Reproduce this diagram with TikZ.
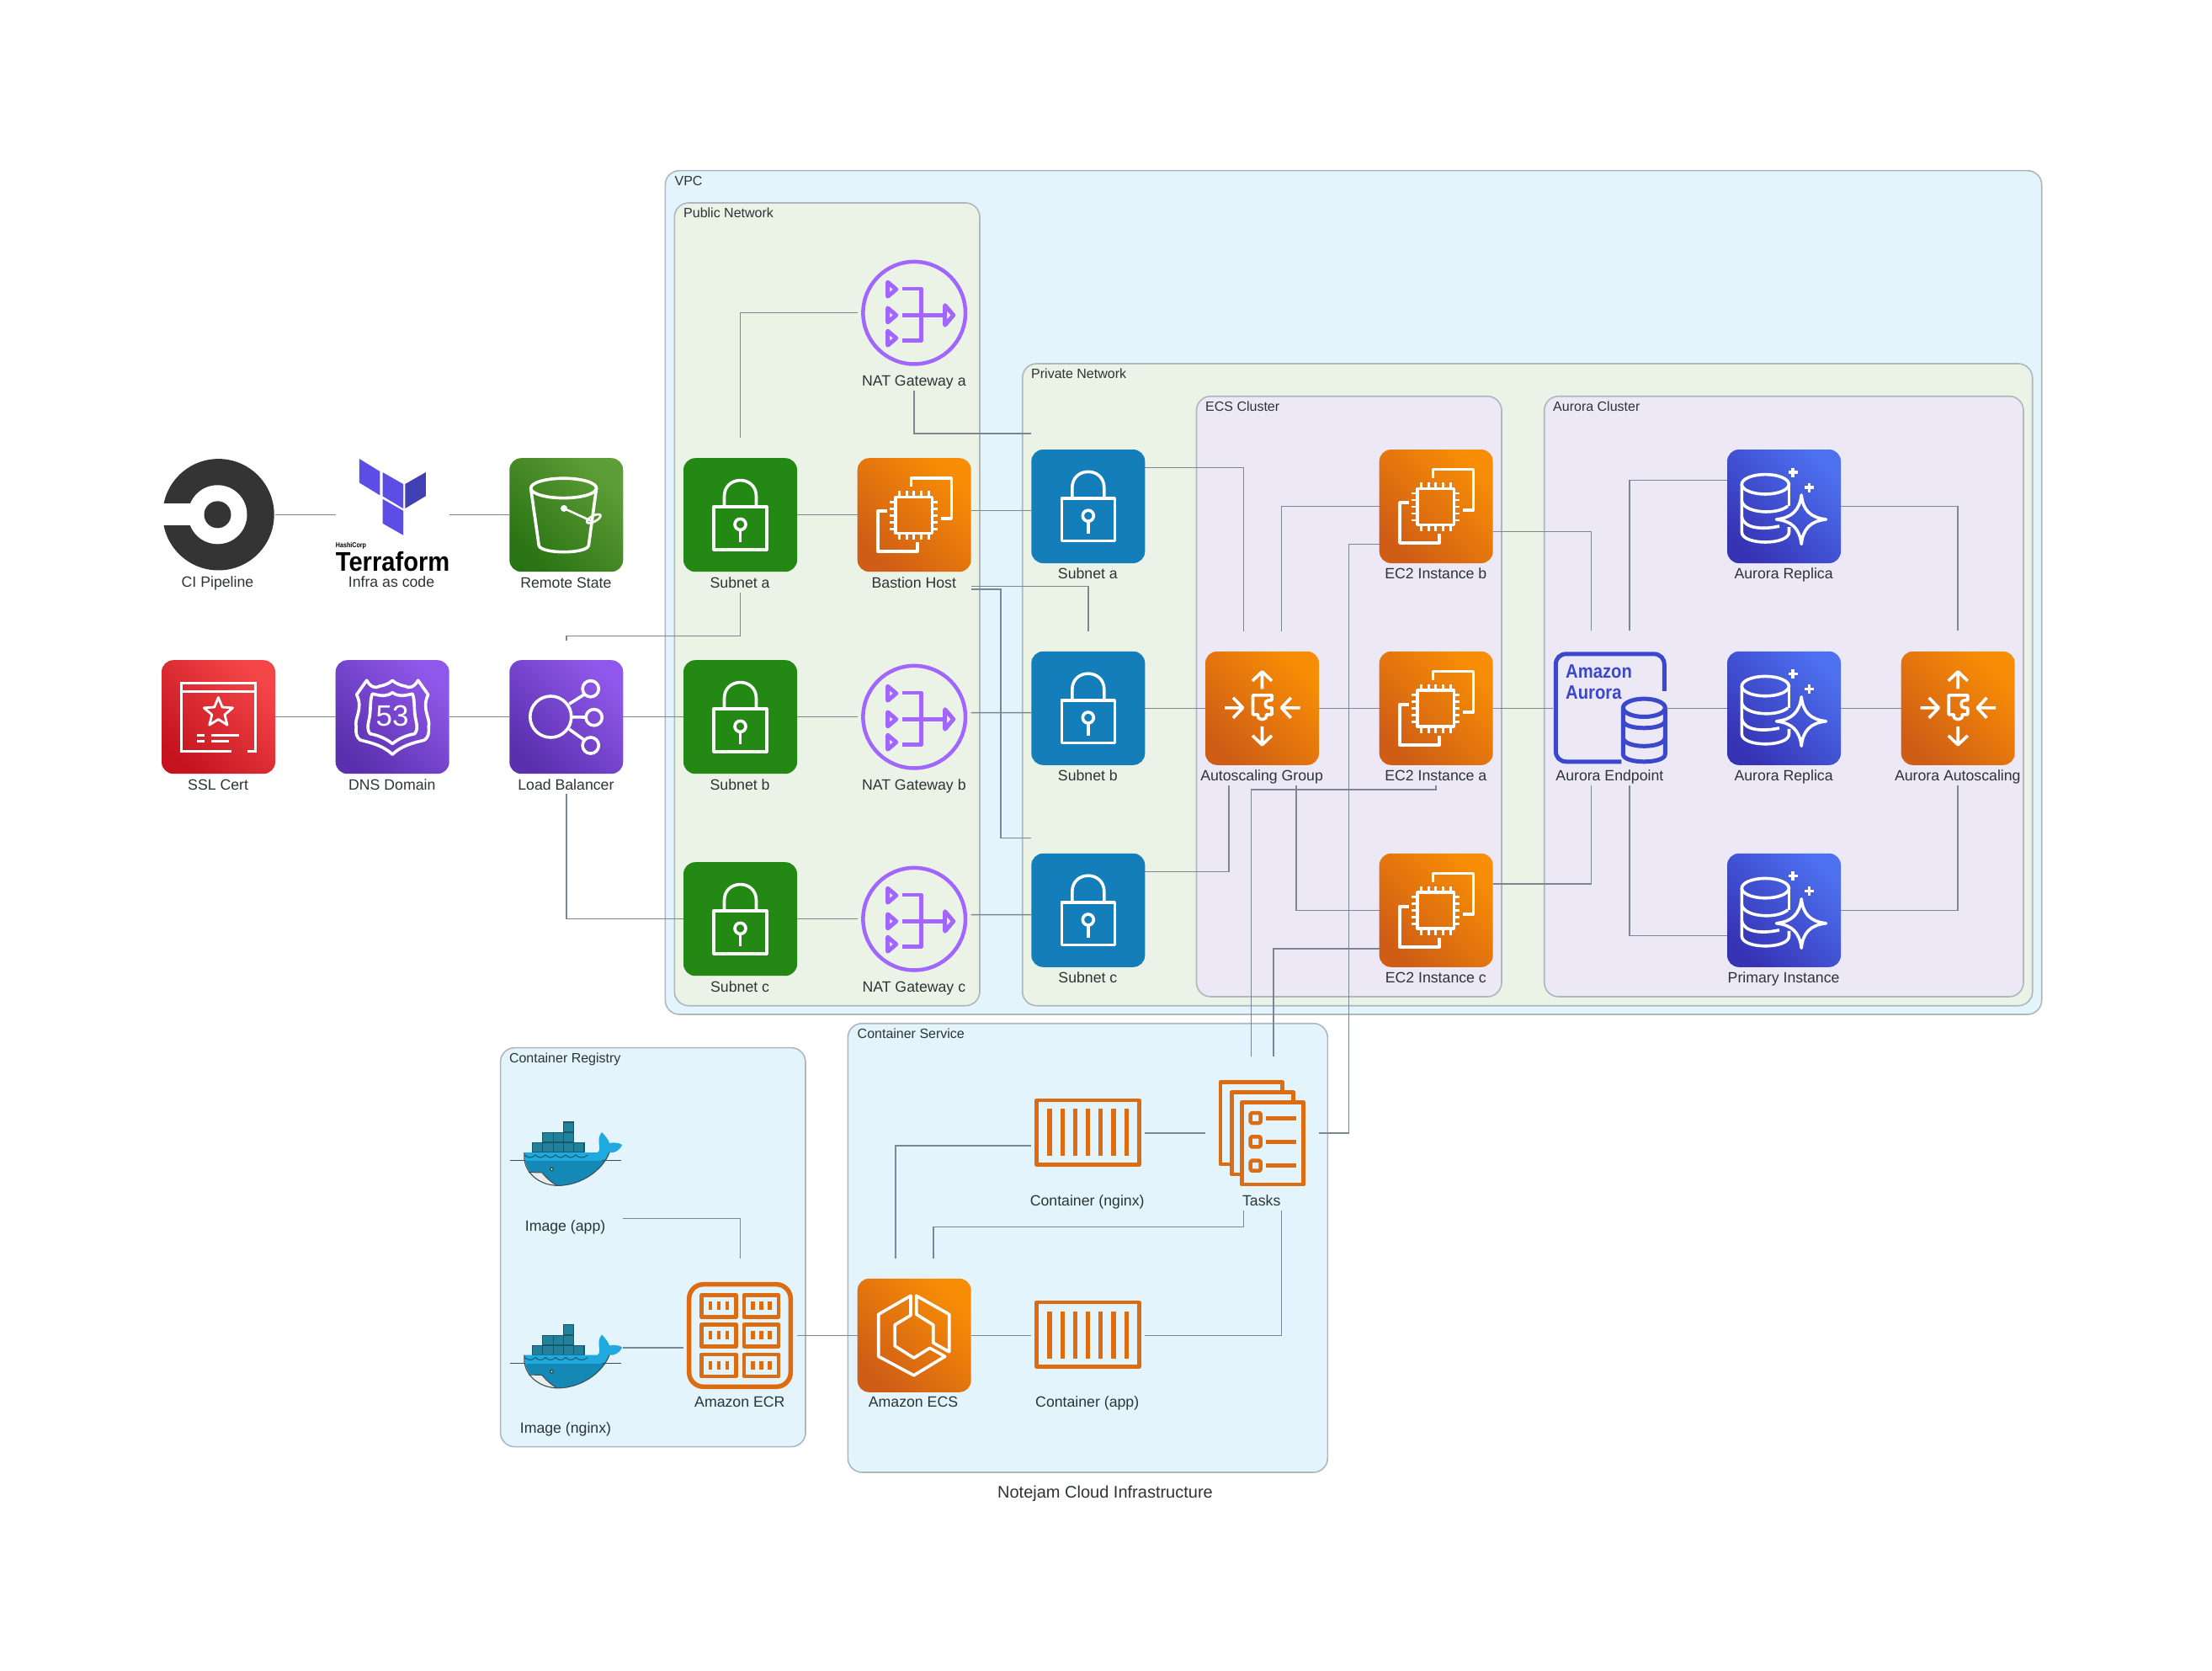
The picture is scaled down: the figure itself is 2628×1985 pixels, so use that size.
\documentclass[tikz,border=0pt]{standalone}
\usepackage{fontspec}
\usepackage{graphicx}
\setmainfont{Liberation Sans}
\usetikzlibrary{calc}
\definecolor{vpcblue}{HTML}{E3F4FC}
\definecolor{netgreen}{HTML}{EBF3E7}
\definecolor{clulilac}{HTML}{ECE8F6}
\definecolor{cluline}{HTML}{AEB6BE}
\definecolor{connc}{HTML}{7B8894}
\definecolor{textc}{HTML}{2D3436}
\definecolor{ordark}{HTML}{D05D16}
\definecolor{orlight}{HTML}{F78E05}
\definecolor{orflat}{HTML}{DD6B10}
\definecolor{reddark}{HTML}{C5141F}
\definecolor{redlight}{HTML}{F44648}
\definecolor{purdark}{HTML}{5A30AE}
\definecolor{purlight}{HTML}{9058EA}
\definecolor{natpur}{HTML}{A166FF}
\definecolor{s3dark}{HTML}{2A7314}
\definecolor{s3light}{HTML}{5E9E36}
\definecolor{audark}{HTML}{3634B5}
\definecolor{aulight}{HTML}{4C70F0}
\definecolor{aublue}{HTML}{3B48CC}
\definecolor{subgreen}{HTML}{248814}
\definecolor{subblue}{HTML}{147EBA}
\definecolor{tfmain}{HTML}{5C4EE5}
\definecolor{tfdark}{HTML}{4040B2}
\definecolor{cidark}{HTML}{343434}
\definecolor{wtop}{HTML}{1FA9DE}
\definecolor{wlow}{HTML}{1489B6}
\definecolor{wline}{HTML}{394D54}
\definecolor{boxa}{HTML}{23809A}
\definecolor{boxb}{HTML}{14586B}
\tikzset{
  x=1pt,y=-1pt,
  cluster/.style={draw=cluline,line width=1.6pt,rounded corners=17pt},
  clulab/.style={anchor=base west,inner sep=0pt,text=textc,font=\fontsize{16}{18}\selectfont},
  lbl/.style={anchor=base,inner sep=0pt,text=textc,font=\fontsize{17.7}{20}\selectfont},
  conn/.style={draw=connc,line width=1.5pt},
  iconnode/.style={minimum size=135pt,inner sep=0pt,outer sep=0pt,rounded corners=14pt},
  blank/.style={iconnode},
  orbox/.style={iconnode,bottom color=ordark,top color=orlight,shading angle=-45},
  redbox/.style={iconnode,bottom color=reddark,top color=redlight,shading angle=-45},
  purbox/.style={iconnode,bottom color=purdark,top color=purlight,shading angle=-45},
  sgbox/.style={iconnode,bottom color=s3dark,top color=s3light,shading angle=-45},
  aubox/.style={iconnode,bottom color=audark,top color=aulight,shading angle=-45},
  greenbox/.style={iconnode,fill=subgreen},
  bluebox/.style={iconnode,fill=subblue},
  wht/.style={draw=white,line width=3.6pt,line join=round},
  aetxt/.style={anchor=base west,inner sep=0pt,text=aublue},
  pics/lockg/.style={code={
    \draw[wht] (36,58) rectangle (99,108.5);
    \draw[wht] (48.5,56) -- (48.5,45.5) .. controls (48.5,20) and (86.5,20) .. (86.5,45.5) -- (86.5,56);
    \draw[wht] (67.5,78.7) circle[radius=6.5];
    \draw[wht] (67.5,85) -- (67.5,100);
  }},
  pics/natg/.style={code={
    \begin{scope}[shift={(67.5,67.5)},line join=round]
    \draw[draw=natpur,line width=4.5pt] (0,0) circle[radius=60.8];
    \foreach \yy in {-28,2.7,30}{
      \draw[draw=natpur,line width=5pt] (-31.5,\yy-8.5) -- (-21.5,\yy) -- (-31.5,\yy+8.5) -- cycle;}
    \draw[draw=natpur,line width=4.5pt] (-14.3,-28.7) -- (8.3,-28.7) -- (8.3,33) -- (-14.3,33);
    \draw[draw=natpur,line width=4.5pt] (-14.3,2.7) -- (36,2.7);
    \draw[draw=natpur,line width=5pt] (36.5,-9) -- (46.5,2.7) -- (36.5,14.5) -- cycle;
    \end{scope}
  }},
  pics/ecg/.style={code={
    \draw[wht] (63.8,34) -- (63.8,23.6) -- (111.6,23.6) -- (111.6,72) -- (99.6,72);
    \draw[wht] (35.4,63) -- (24.3,63) -- (24.3,111) -- (71,111) -- (71,100);
    \draw[wht] (45.5,46.4) rectangle (88.6,89.3);
    \foreach \aa in {50,58.5,67,76,85}{
      \draw[white,line width=2.8pt] (\aa,39) -- (\aa,46);
      \draw[white,line width=2.8pt] (\aa,90) -- (\aa,97);}
    \foreach \aa in {52,60,68,76,84}{
      \draw[white,line width=2.8pt] (38.5,\aa) -- (45.5,\aa);
      \draw[white,line width=2.8pt] (88.6,\aa) -- (95.5,\aa);}
  }},
  pics/asgg/.style={code={
    \draw[wht] (67.5,44.6) -- (67.5,24.5) (56,35) -- (67.5,24) -- (79,35);
    \draw[wht] (67.5,89) -- (67.5,110.5) (56,100) -- (67.5,111) -- (79,100);
    \draw[wht] (23,67) -- (44,67) (33,55) -- (44.6,67) -- (33,79);
    \draw[wht] (112.5,67) -- (91,67) (101.7,55) -- (90.5,67) -- (101.7,79);
    \draw[wht] (56.5,52) -- (79,52) -- (79,58) -- (75,58) .. controls (70,58) and (70,67) .. (75,67) -- (79,67) -- (79,75) -- (72.5,75) .. controls (74,83) and (61,83) .. (62.5,75) -- (56.5,75) -- cycle;
  }},
  pics/bucketg/.style={code={
    \draw[wht] (64.3,35.7) ellipse[x radius=39,y radius=11.7];
    \draw[wht] (25.3,35.7) -- (35,104) .. controls (38,114) and (91,114) .. (94,104) -- (103.3,35.7);
    \fill[white] (64.7,59.7) circle[radius=4];
    \draw[white,line width=2.6pt] (64.7,59.7) -- (98,75);
    \draw[white,line width=2.6pt,rotate around={28:(100,72)}] (100,72) ellipse[x radius=9,y radius=3.5];
  }},
  pics/certg/.style={code={
    \draw[white,line width=3pt,line join=miter] (83,108) -- (23.7,108) -- (23.7,27) -- (111,27) -- (111,108) -- (102,108);
    \draw[white,line width=3pt] (23.7,37.3) -- (111,37.3);
    \begin{scope}[shift={(67.4,62.3)}]
    \draw[white,line width=2.8pt,line join=round] (0,-18) -- (4.7,-6.5) -- (17.1,-5.6) -- (7.6,2.5) -- (10.6,14.6) -- (0,8) -- (-10.6,14.6) -- (-7.6,2.5) -- (-17.1,-5.6) -- (-4.7,-6.5) -- cycle;
    \end{scope}
    \draw[white,line width=3pt] (42,89) -- (51,89) (58.5,89) -- (92,89) (42,96.3) -- (51,96.3) (58.5,96.3) -- (79.5,96.3);
  }},
  pics/shieldg/.style={code={
    \begin{scope}[shift={(67.5,68)}]
    \draw[wht] (-30.5,-44) .. controls (-26,-36) and (-20,-34) .. (-15.5,-37) .. controls (-10,-38) and (-4,-40) .. (0,-44) .. controls (4,-40) and (10,-38) .. (15.5,-37) .. controls (20,-34) and (26,-36) .. (30.5,-44) -- (42.5,-27) .. controls (34,-10) and (46,2) .. (43,11) .. controls (44,20) and (42,24) .. (38,27) .. controls (25,30) and (10,34) .. (0,44) .. controls (-10,34) and (-25,30) .. (-38,27) .. controls (-42,24) and (-44,20) .. (-43,11) .. controls (-46,2) and (-34,-10) .. (-42.5,-27) -- cycle;
    \begin{scope}[scale=.78]
    \draw[wht] (-30.5,-36) .. controls (-15,-32) and (-8,-32) .. (0,-38) .. controls (8,-32) and (15,-32) .. (30.5,-36) .. controls (35,-25) and (32,-10) .. (36,5) .. controls (38,14) and (38,20) .. (34,25) .. controls (22,27) and (10,32) .. (0,40) .. controls (-10,32) and (-22,27) .. (-34,25) .. controls (-38,20) and (-38,14) .. (-36,5) .. controls (-32,-10) and (-35,-25) .. (-30.5,-36) -- cycle;
    \end{scope}
    \end{scope}
  }},
  pics/elbg/.style={code={
    \draw[wht] (49,67.3) circle[radius=24.5];
    \foreach \yy/\xx in {34/96.4,68/100.4,101.3/96.4}{
      \draw[wht] (\xx,\yy) circle[radius=9.6];}
    \draw[wht] (71,52) -- (89,40.7) (74,67.6) -- (91,67.8) (71,82) -- (89,95);
  }},
  pics/aurdbg/.style={code={
    \draw[wht] (45.3,41.3) ellipse[x radius=28,y radius=11.7];
    \draw[wht] (17.3,41.3) -- (17.3,98) .. controls (17.3,114) and (73.5,114) .. (73.5,98) -- (73.5,92);
    \draw[wht] (73.5,41.3) -- (73.5,67);
    \draw[wht] (17.3,61) .. controls (20,76) and (60,78) .. (72,67);
    \draw[wht] (17.3,80) .. controls (20,95) and (45,95) .. (62,91);
    \draw[wht] (88.2,54) .. controls (90,72) and (99,81) .. (117.5,83) .. controls (99,85) and (90,94) .. (88.2,112.4) .. controls (86,94) and (77,85) .. (58.4,83) .. controls (77,81) and (86,72) .. (88.2,54) -- cycle;
    \draw[white,line width=3.2pt] (72.5,27) -- (83.5,27) (78,21.5) -- (78,32.5);
    \draw[white,line width=3.2pt] (92,45) -- (103,45) (97.5,39.5) -- (97.5,50.5);
  }},
  aub/.style={draw=aublue,line width=5pt,line join=round},
  pics/aendg/.style={code={
    \draw[aub] (132,47) -- (132,16) .. controls (132,8) and (127,3) .. (119,3) -- (16,3) .. controls (8,3) and (3,8) .. (3,16) -- (3,118) .. controls (3,126) and (8,131) .. (16,131) -- (81,131);
    \draw[aub] (108,67) ellipse[x radius=25,y radius=10.7];
    \draw[aub] (83,67) -- (83,122) .. controls (83,134) and (133,134) .. (133,122) -- (133,67);
    \draw[aub] (83,82) .. controls (83,94) and (133,94) .. (133,82);
    \draw[aub] (83,102) .. controls (83,116) and (133,116) .. (133,102);
  }},
  pics/ecsg/.style={code={
    \draw[wht] (63.3,20.4) -- (25,42.5) -- (25,92.5) -- (67,115) -- (104,92.5) -- (86,82.5) -- (67,94.3) -- (44.4,80) -- (44.4,55) -- (63.3,43.6) -- cycle;
    \draw[wht] (70,20.4) -- (109,42.5) -- (109,87) -- (90,76.4) -- (90,55) -- (70,42.5) -- cycle;
  }},
  orl/.style={draw=orflat,line join=round},
  pics/ecrg/.style={code={
    \begin{scope}[shift={(4,4.2)}]
    \draw[orl,line width=5.5pt,rounded corners=17pt] (2.7,2.7) rectangle (123.3,124.3);
    \foreach \xa in {17.5,68}{
      \foreach \ya in {15.4,50.4,85.8}{
        \draw[orl,line width=4.6pt] (\xa,\ya) rectangle (\xa+41,\ya+26);
        \foreach \d in {-10,0,10}{
          \draw[orl,line width=4.6pt] (\xa+20.5+\d,\ya+8) -- (\xa+20.5+\d,\ya+18);}
      }}
    \end{scope}
  }},
  pics/ctng/.style={code={
    \begin{scope}[shift={(4,26)}]
    \draw[orl,line width=4.7pt] (2.3,2.3) rectangle (124,78.7);
    \foreach \xa in {17.7,33,48,63.3,78.3,93.7,109}{
      \draw[orl,line width=5.5pt] (\xa,12.7) -- (\xa,68.7);}
    \end{scope}
  }},
  pics/tasksg/.style={code={
    \begin{scope}[shift={(15.7,4.3)}]
    \draw[orl,line width=4.5pt] (13,100) -- (2.3,100) -- (2.3,2.3) -- (76,2.3) -- (76,13);
    \draw[orl,line width=4.5pt] (25,112) -- (15.6,112) -- (15.6,14.6) -- (89,14.6) -- (89,25);
    \draw[orl,line width=4.5pt] (27.6,26.3) rectangle (101,124);
    \foreach \yy in {45,73.3,101.7}{
      \draw[orl,line width=4.5pt,rounded corners=1.5pt] (38,\yy-6) rectangle (50,\yy+6);
      \draw[orl,line width=5pt] (56.3,\yy) -- (92.7,\yy);}
    \end{scope}
  }},
  pics/whaleg/.style={code={
    \foreach \xa in {26.5,38.8,51.1,63.4,75.7}{
      \draw[fill=boxa,draw=boxb,line width=1.2pt] (\xa,25.7) rectangle (\xa+12.3,37);}
    \foreach \xa in {38.8,51.1,63.4}{
      \draw[fill=boxa,draw=boxb,line width=1.2pt] (\xa,13.6) rectangle (\xa+12.3,24.9);}
    \draw[fill=boxa,draw=boxb,line width=1.2pt] (63.4,1) rectangle (75.7,12.6);
    \begin{scope}
    \clip (16.8,37) -- (104,37) .. controls (110,33) and (101,22) .. (109,13) .. controls (113,17) and (117,22) .. (118,26) .. controls (123,25) and (129,25) .. (133,28) .. controls (130,35) and (124,38) .. (118,37) .. controls (110,58) and (85,76) .. (57,76.4) .. controls (33,76) and (17,60) .. (16.8,37) -- cycle;
    \fill[wtop] (0,0) rectangle (140,47);
    \fill[wlow] (0,47) rectangle (140,80);
    \fill[gray!15] (20,60) -- (38,61) .. controls (42,66) and (48,72) .. (56,77) -- (30,78) -- cycle;
    \end{scope}
    \draw[wline,line width=1pt] (22,60.5) -- (38,61) .. controls (42,66) and (48,72) .. (56,76.4);
    \draw[wline,line width=1.1pt] (16.8,37) -- (16.8,42) .. controls (17,60) and (33,76) .. (57,76.4) .. controls (85,76) and (110,58) .. (118,37);
    \draw[wline,line width=1pt] (0,46.5) -- (17,46.5) (109,46.5) -- (132,46.5);
    \draw[boxb,line width=1pt] (17,40) .. controls (22,44) and (26,44) .. (30,40) .. controls (34,44) and (38,44) .. (42,40) .. controls (46,44) and (50,44) .. (54,40) .. controls (58,44) and (62,44) .. (66,40) .. controls (70,44) and (74,44) .. (78,40) .. controls (82,44) and (88,44) .. (92,40);
    \fill[wline] (49.5,56.8) circle[radius=2.6];
    \fill[white] (49.5,56.8) circle[radius=1];
  }},
  pics/tfg/.style={code={
    \fill[tfmain] (426.8,545) -- (451.3,560) -- (451.3,588.3) -- (426.8,573.3) -- cycle;
    \fill[tfmain] (454.5,561) -- (479,575) -- (479,604) -- (454.5,589.3) -- cycle;
    \fill[tfdark] (481.3,575) -- (505.8,561) -- (505.8,589.3) -- (481.3,604) -- cycle;
    \fill[tfmain] (454.5,592.7) -- (479,606.7) -- (479,635.7) -- (454.5,621.7) -- cycle;
  }},
  pics/cig/.style={code={
    \fill[cidark] (259.5,611.3) circle[radius=66.2];
    \fill[white] (258.5,611.3) circle[radius=35];
    \fill[white] (185,598.3) rectangle (235,624.3);
    \fill[cidark] (258.5,611.3) circle[radius=16];
  }},
}
\newcommand{\nlab}[2]{\node[lbl] (#1-l) at ([xshift=-0.4,yshift=-18.9]#1.south) {#2};}
\begin{document}
\begin{tikzpicture}
\useasboundingbox (0,0) rectangle (2628,1985);
\fill[white] (0,0) rectangle (2628,1985);
% clusters
\draw[cluster,fill=vpcblue] (790.3,202.7) rectangle (2425.7,1205);
\draw[cluster,fill=netgreen] (801.3,241) rectangle (1164,1194.7);
\draw[cluster,fill=netgreen] (1214.7,432) rectangle (2414.7,1194.7);
\draw[cluster,fill=clulilac] (1421.5,470.7) rectangle (1784,1184);
\draw[cluster,fill=clulilac] (1834.7,470.7) rectangle (2404,1184);
\draw[cluster,fill=vpcblue] (594.6,1244.6) rectangle (957,1718.6);
\draw[cluster,fill=vpcblue] (1007.3,1215.7) rectangle (1577.3,1749);
\node[clulab] (cl-vpc) at (801.4,221) {VPC};
\node[clulab] (cl-pub) at (812,258.5) {Public Network};
\node[clulab] (cl-prv) at (1225,449.5) {Private Network};
\node[clulab] (cl-ecs) at (1432,488.5) {ECS Cluster};
\node[clulab] (cl-aur) at (1845,488.5) {Aurora Cluster};
\node[clulab] (cl-reg) at (604.8,1262) {Container Registry};
\node[clulab] (cl-svc) at (1018.5,1233) {Container Service};
\node[anchor=base,inner sep=0pt,text=textc,font=\fontsize{20}{24}\selectfont] (title) at (1313,1779.5) {Notejam Cloud Infrastructure};
% row nodes
\node[blank] (ci) at (259.5,611.7) {};
\node[blank] (tf) at (466.2,611.7) {};
\node[sgbox] (s3) at (672.8,611.7) {};
\node[redbox] (ssl) at (259.5,851.7) {};
\node[purbox] (dns) at (466.2,851.7) {};
\node[purbox] (lb) at (672.8,851.7) {};
\node[greenbox] (sna) at (879.5,611.7) {};
\node[greenbox] (snb) at (879.5,851.7) {};
\node[greenbox] (snc) at (879.5,1091.7) {};
\node[blank] (nata) at (1086.2,371.7) {};
\node[orbox] (bastion) at (1086.2,611.7) {};
\node[blank] (natb) at (1086.2,851.7) {};
\node[blank] (natc) at (1086.2,1091.7) {};
\node[bluebox] (pva) at (1292.8,601.5) {};
\node[bluebox] (pvb) at (1292.8,841.3) {};
\node[bluebox] (pvc) at (1292.8,1081.3) {};
\node[orbox] (asg) at (1499.5,841.3) {};
\node[orbox] (ecb) at (1706.2,601.5) {};
\node[orbox] (eca) at (1706.2,841.3) {};
\node[orbox] (ecc) at (1706.2,1081.3) {};
\node[blank] (ae) at (1912.8,841.3) {};
\node[aubox] (rep1) at (2119.5,601.5) {};
\node[aubox] (rep2) at (2119.5,841.3) {};
\node[aubox] (prim) at (2119.5,1081.3) {};
\node[orbox] (aas) at (2326.2,841.3) {};
\node[blank] (imapp) at (672.8,1361) {};
\node[blank] (imng) at (672.8,1601) {};
\node[blank] (ecr) at (879.5,1586.3) {};
\node[orbox] (ecs) at (1086.2,1586.3) {};
\node[blank] (cng) at (1292.8,1346.2) {};
\node[blank] (capp) at (1292.8,1586.3) {};
\node[blank] (tasks) at (1499.5,1346.2) {};
% glyphs
\pic at (0,0) {cig};
\pic at (0,0) {tfg};
\node[anchor=base west,inner sep=0pt,text=black] (hashi) at (398.7,650) {\scalebox{.85}[1]{\fontsize{8.4}{9}\selectfont\bfseries HashiCorp}};
\node[anchor=base west,inner sep=0pt,text=black] (tfword) at (398.7,678) {\scalebox{.91}[1]{\fontsize{32}{32}\selectfont\bfseries Terraform}};
\pic at (s3.north west) {bucketg};
\pic at (ssl.north west) {certg};
\pic at (dns.north west) {shieldg};
\node[inner sep=0pt,text=white,font=\fontsize{35}{36}\selectfont] (dns53) at ([yshift=1]dns.center) {53};
\pic at (lb.north west) {elbg};
\foreach \n in {sna,snb,snc,pva,pvb,pvc}{\pic at (\n.north west) {lockg};}
\foreach \n in {nata,natb,natc}{\pic at (\n.north west) {natg};}
\foreach \n in {bastion,ecb,eca,ecc}{\pic at (\n.north west) {ecg};}
\foreach \n in {asg,aas}{\pic at (\n.north west) {asgg};}
\foreach \n in {rep1,rep2,prim}{\pic at (\n.north west) {aurdbg};}
\pic at (ae.north west) {aendg};
\node[aetxt] (aetext1) at (1860,805.6) {\scalebox{.88}[1]{\fontsize{23}{25}\selectfont\bfseries Amazon}};
\node[aetxt] (aetext2) at (1860,830.4) {\scalebox{.88}[1]{\fontsize{23}{25}\selectfont\bfseries Aurora}};
\pic at (ecs.north west) {ecsg};
\pic at (ecr.north west) {ecrg};
\pic at (cng.north west) {ctng};
\pic at (capp.north west) {ctng};
\pic at (tasks.north west) {tasksg};
\pic at ([xshift=0.7,yshift=-38.5]imapp.north west) {whaleg};
\pic at ([xshift=0.7,yshift=-39]imng.north west) {whaleg};
% labels
\node[lbl] (ci-l) at (258.5,697.5) {CI Pipeline};
\node[lbl] (tf-l) at (465,697.5) {Infra as code};
\nlab{s3}{Remote State}
\nlab{ssl}{SSL Cert}
\nlab{dns}{DNS Domain}
\nlab{lb}{Load Balancer}
\nlab{sna}{Subnet a}
\nlab{snb}{Subnet b}
\nlab{snc}{Subnet c}
\nlab{nata}{NAT Gateway a}
\nlab{bastion}{Bastion Host}
\nlab{natb}{NAT Gateway b}
\nlab{natc}{NAT Gateway c}
\nlab{pva}{Subnet a}
\nlab{pvb}{Subnet b}
\nlab{pvc}{Subnet c}
\nlab{asg}{Autoscaling Group}
\nlab{ecb}{EC2 Instance b}
\nlab{eca}{EC2 Instance a}
\nlab{ecc}{EC2 Instance c}
\nlab{ae}{Aurora Endpoint}
\nlab{rep1}{Aurora Replica}
\nlab{rep2}{Aurora Replica}
\nlab{prim}{Primary Instance}
\nlab{aas}{Aurora Autoscaling}
\node[lbl] (imapp-l) at (671.6,1462.5) {Image (app)};
\node[lbl] (imng-l) at (672,1702.5) {Image (nginx)};
\node[lbl] (ecr-l) at (878.8,1671.5) {Amazon ECR};
\node[lbl] (ecs-l) at (1085,1671.5) {Amazon ECS};
\node[lbl] (cng-l) at (1291.7,1432) {Container (nginx)};
\node[lbl] (capp-l) at (1291.7,1671.5) {Container (app)};
\node[lbl] (tasks-l) at (1498.7,1432) {Tasks};
% connectors
\draw[conn] (ci.east) -- (tf.west);
\draw[conn] (tf.east) -- (s3.west);
\draw[conn] (ssl.east) -- (dns.west);
\draw[conn] (dns.east) -- (lb.west);
\draw[conn] (lb.east) -- (snb.west);
\draw[conn] ([yshift=-24.8]sna.south) -- ++(0,51.3) -| ([yshift=23.5]lb.north);
\draw[conn] ([yshift=-24.1]lb.south) |- (snc.west);
\draw[conn] ([yshift=24.2]sna.north) |- (nata.west);
\draw[conn] (sna.east) -- (bastion.west);
\draw[conn] ([yshift=5]bastion.east) -- ([yshift=-5.2]pva.west);
\draw[conn] ([yshift=-24.8]nata.south) |- ([yshift=86.5]pva.west);
\draw[conn] ([yshift=-17.2]bastion.south east) -| ([yshift=24.2]pvb.north);
\draw[conn] ([yshift=-21]bastion.south east) -- ++(35.3,0) |- ([yshift=85.9]pvc.west);
\draw[conn] (snb.east) -- (natb.west);
\draw[conn] (snc.east) -- (natc.west);
\draw[conn] ([yshift=5.1]natb.east) -- ([yshift=-5.3]pvb.west);
\draw[conn] ([yshift=5.1]natc.east) -- ([yshift=-5.3]pvc.west);
\draw[conn] ([yshift=45.8]pva.east) -| ([xshift=-22.1,yshift=24.2]asg.north);
\draw[conn] ([xshift=22.9,yshift=24.2]asg.north) |- (ecb.west);
\draw[conn] (pvb.east) -- (asg.west);
\draw[conn] (asg.east) -- (eca.west);
\draw[conn] (eca.east) -- (ae.west);
\draw[conn] (ae.east) -- (rep2.west);
\draw[conn] (rep2.east) -- (aas.west);
\draw[conn] ([yshift=45.6]pvc.east) -| ([xshift=-39.5,yshift=-24.2]asg.south);
\draw[conn] ([xshift=40.3,yshift=-24.2]asg.south) |- (ecc.west);
\draw[conn] ([yshift=-24.2]eca.south) -- ++(0,5) -| ([xshift=-12.8,yshift=24]tasks.north);
\draw[conn] ([yshift=-45.5]ecc.west) -| ([xshift=13.5,yshift=24]tasks.north);
\draw[conn] ([yshift=-45]ecb.west) -- ++(-36,0) |- (tasks.east);
\draw[conn] (cng.east) -- (tasks.west);
\draw[conn] ([yshift=-15]cng.west) -| ([xshift=-22.2,yshift=24.2]ecs.north);
\draw[conn] ([xshift=-22.2,yshift=-24.3]tasks.south) -- ++(0,19.3) -| ([xshift=22.7,yshift=24.2]ecs.north);
\draw[conn] ([xshift=22.8,yshift=-24.3]tasks.south) |- (capp.east);
\draw[conn] (ecs.east) -- (capp.west);
\draw[conn] (ecr.east) -- (ecs.west);
\draw[conn] (imng.east) -- ([yshift=-14.7]ecr.west);
\draw[conn] ([yshift=-86.5]imapp.east) -| ([yshift=24.2]ecr.north);
\draw[conn] ([yshift=-30]ecb.east) -| ([xshift=-22.2,yshift=24.8]ae.north);
\draw[conn] ([yshift=30.8]rep1.west) -| ([xshift=23.2,yshift=24.8]ae.north);
\draw[conn] (rep1.east) -| ([yshift=24.8]aas.north);
\draw[conn] ([yshift=31.3]ecc.east) -| ([xshift=-22.2,yshift=-24.6]ae.south);
\draw[conn] ([xshift=23.2,yshift=-24.6]ae.south) |- ([yshift=-30.3]prim.west);
\draw[conn] ([yshift=-24.6]aas.south) |- (prim.east);
\end{tikzpicture}
\end{document}
